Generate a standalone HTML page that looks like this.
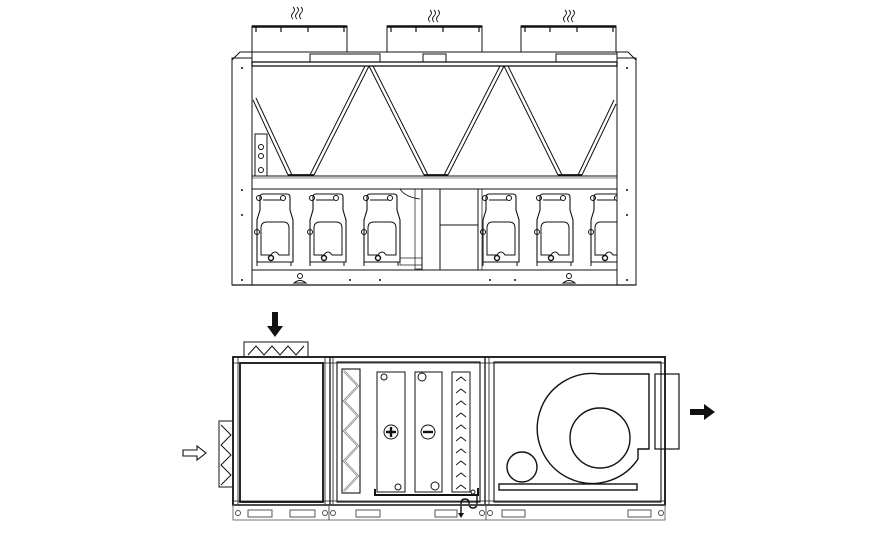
<!DOCTYPE html>
<html><head><meta charset="utf-8"><style>html,body{margin:0;padding:0;background:#fff}svg{display:block}</style></head>
<body>
<svg width="875" height="552" viewBox="0 0 875 552" xmlns="http://www.w3.org/2000/svg" fill="none" stroke="#111" stroke-width="1">
<defs>
<g id="comp">
  <path d="M5,18 v-13 q0,-3 3,-3 h24 q3,0 3,3 v13 l3,10 v42 h-36 v-42 z" stroke-width="1.1"/>
  <path d="M6,36 q0,-6 6,-6 h16 q6,0 6,6 v27 h-10 q-4,-6 -8,0 h-10 z" stroke-width="1"/>
  <circle cx="16" cy="66" r="2.5" stroke-width="1.4"/>
  <circle cx="4" cy="6" r="2.5"/><circle cx="28" cy="6" r="2.5"/>
  <circle cx="2" cy="40" r="2.5"/>
  <line x1="8" y1="8" x2="26" y2="8"/>
  <path d="M2,70 v4 M36,70 v4"/>
</g>
<g id="fan">
  <rect x="0" y="0" width="95" height="26"/>
  <line x1="0" y1="0.5" x2="95" y2="0.5" stroke-width="2.5"/>
  <path d="M4,1 v5 M29,1 v5 M56,1 v5 M92,1 v5" stroke-width="1.2"/>
</g>
<g id="wave"><path d="M0,0 q3,3 0,6 t0,6 M4,0 q3,3 0,6 t0,6 M8,0 q3,3 0,6 t0,6" stroke-width="0.9"/></g>
<clipPath id="cc"><rect x="585" y="180" width="32" height="100"/></clipPath>
</defs>

<use href="#fan" x="252" y="26"/>
<use href="#fan" x="387" y="26"/>
<use href="#fan" x="521" y="26"/>
<use href="#wave" x="293" y="7"/>
<use href="#wave" x="430" y="10"/>
<use href="#wave" x="565" y="10"/>

<path d="M232,60 l8,-8 h388 l8,8"/>
<line x1="240" y1="52" x2="628" y2="52"/>
<rect x="252" y="52" width="365" height="10"/>
<rect x="310" y="54" width="70" height="8"/>
<rect x="423" y="54" width="23" height="8"/>
<rect x="556" y="54" width="61" height="8"/>
<rect x="252" y="62" width="365" height="4" stroke-width="1.3"/>

<rect x="232" y="58" width="20" height="227"/>
<rect x="617" y="58" width="19" height="227"/>
<rect x="252" y="66" width="365" height="204" stroke-width="0.8"/>

<g stroke-width="1">
<path d="M253,100 L288,175 M256,98 L292,175"/>
<path d="M310,175 L365,66 M314,175 L369,66"/>
<path d="M369,66 L424,175 M373,66 L428,175"/>
<path d="M444,175 L500,66 M448,175 L504,66"/>
<path d="M504,66 L558,175 M508,66 L562,175"/>
<path d="M578,175 L614,100 M582,175 L616,104"/>
<path d="M288,175 h26 M424,175 h24 M558,175 h24" stroke-width="1.8"/>
</g>
<rect x="255" y="134" width="12" height="42"/>
<circle cx="261" cy="147" r="2.5"/><circle cx="261" cy="156" r="2.5"/><circle cx="261" cy="170" r="2.5"/>

<rect x="252" y="176" width="365" height="13"/>
<line x1="252" y1="178" x2="617" y2="178" stroke-width="0.6"/>

<rect x="422" y="189" width="56" height="81"/>
<line x1="440" y1="189" x2="440" y2="270"/>
<line x1="440" y1="225" x2="478" y2="225"/>
<path d="M400,189 q5,8 20,10" stroke-width="0.8"/>
<rect x="415" y="189" width="7" height="80" stroke-width="0.7"/>
<rect x="400" y="258" width="22" height="7" stroke-width="0.7"/>
<rect x="478" y="189" width="4" height="81" stroke-width="0.7"/>

<use href="#comp" x="255" y="192"/>
<use href="#comp" x="308" y="192"/>
<use href="#comp" x="362" y="192"/>
<use href="#comp" x="481" y="192"/>
<use href="#comp" x="535" y="192"/>
<g clip-path="url(#cc)"><use href="#comp" x="589" y="192"/></g>

<rect x="252" y="270" width="365" height="15"/>
<line x1="232" y1="285" x2="636" y2="285" stroke-width="1.3"/>
<circle cx="300" cy="276" r="2.5"/><path d="M294,283 q6,-5 12,0 z"/>
<circle cx="569" cy="276" r="2.5"/><path d="M563,283 q6,-5 12,0 z"/>
<g fill="#111" stroke="none">
<circle cx="242" cy="190" r="1"/><circle cx="242" cy="215" r="1"/><circle cx="242" cy="280" r="1"/><circle cx="242" cy="68" r="1"/>
<circle cx="627" cy="190" r="1"/><circle cx="627" cy="215" r="1"/><circle cx="627" cy="280" r="1"/><circle cx="627" cy="68" r="1"/>
<circle cx="350" cy="280" r="1"/><circle cx="380" cy="280" r="1"/><circle cx="490" cy="280" r="1"/><circle cx="515" cy="280" r="1"/>
</g>

<path d="M272,312 h6 v14 h5 l-8,11 l-8,-11 h5 z" fill="#111" stroke="none"/>
<path d="M183,450 h14 v-4 l9,7 l-9,7 v-4 h-14 z" stroke-width="1.1"/>
<path d="M690,409 h14 v-5 l11,8 l-11,8 v-5 h-14 z" fill="#111" stroke="none"/>

<rect x="244" y="342" width="64" height="15"/>
<path d="M248,355 l8,-9 l8,9 l8,-9 l8,9 l8,-9 l8,9 l8,-9" stroke-width="1"/>
<rect x="219" y="421" width="14" height="66"/>
<path d="M221,425 l10,10 l-10,10 l10,10 l-10,10 l10,10 l-10,10" stroke-width="1"/>

<rect x="233" y="357" width="432" height="148" stroke-width="1.8"/>
<line x1="233" y1="363" x2="665" y2="363" stroke-width="0.8"/>
<line x1="233" y1="501" x2="665" y2="501" stroke-width="0.8"/>
<rect x="240" y="363" width="83" height="139" stroke-width="1.8"/>
<line x1="238" y1="357" x2="238" y2="505" stroke-width="0.8"/>
<line x1="325" y1="357" x2="325" y2="505" stroke-width="0.8"/>
<line x1="330" y1="357" x2="330" y2="505" stroke-width="1.3"/>
<line x1="333" y1="357" x2="333" y2="505" stroke-width="0.8"/>
<rect x="337" y="362" width="143" height="140" stroke-width="1.1"/>
<line x1="485" y1="357" x2="485" y2="505" stroke-width="1.3"/>
<line x1="489" y1="357" x2="489" y2="505" stroke-width="0.8"/>
<rect x="342" y="369" width="18" height="124" stroke-width="1.1"/>
<path d="M344,371 l14,15 l-14,15 l14,15 l-14,15 l14,15 l-14,15 l14,15 l-14,15" stroke="#888" stroke-width="2.2"/>
<path d="M344,371 l14,15 l-14,15 l14,15 l-14,15 l14,15 l-14,15 l14,15 l-14,15" stroke="#fff" stroke-width="0.6"/>
<rect x="377" y="372" width="28" height="120"/>
<circle cx="384" cy="377" r="3"/><circle cx="398" cy="487" r="3"/>
<circle cx="391" cy="432" r="7"/><path d="M386,432 h10 M391,427 v10" stroke-width="2.4"/>
<rect x="415" y="372" width="27" height="120"/>
<circle cx="422" cy="377" r="4"/><circle cx="435" cy="486" r="4"/>
<circle cx="428" cy="432" r="7"/><path d="M423,432 h10" stroke-width="2.4"/>
<rect x="452" y="372" width="18" height="120"/>
<path d="M456,381 l5,-4 l5,4 M456,393 l5,-4 l5,4 M456,405 l5,-4 l5,4 M456,417 l5,-4 l5,4 M456,429 l5,-4 l5,4 M456,441 l5,-4 l5,4 M456,453 l5,-4 l5,4 M456,465 l5,-4 l5,4 M456,477 l5,-4 l5,4 M456,489 l5,-4 l5,4" stroke-width="0.9"/>
<path d="M375,489 v6 h103 v-7" stroke-width="2"/>
<circle cx="473" cy="492" r="2"/>
<path d="M477,495 v8 q0,5 -4,5 q-4,0 -4,-5 q0,-4 -4,-4 q-4,0 -4,5 v11" stroke-width="1.4"/>
<path d="M458,513 l3,5 l3,-5 z" fill="#111" stroke="none"/>
<rect x="494" y="362" width="167" height="140" stroke-width="1.1"/>
<path d="M649,374 H600 A55,55 0 1 0 638,459 L638,449 H649 Z" stroke-width="1.4"/>
<circle cx="600" cy="438" r="30" stroke-width="1.4"/>
<rect x="655" y="374" width="24" height="75" stroke-width="1.2"/>
<circle cx="522" cy="467" r="15" stroke-width="1.4"/>
<rect x="499" y="484" width="138" height="6" stroke-width="1.4"/>

<rect x="233" y="505" width="432" height="15" stroke="#666" stroke-width="0.9"/>
<g stroke="#444" stroke-width="0.9">
<rect x="248" y="510" width="24" height="7"/><rect x="290" y="510" width="25" height="7"/>
<rect x="356" y="510" width="24" height="7"/><rect x="435" y="510" width="22" height="7"/>
<rect x="502" y="510" width="23" height="7"/><rect x="628" y="510" width="23" height="7"/>
<circle cx="238" cy="513" r="2.5"/><circle cx="325" cy="513" r="2.5"/><circle cx="333" cy="513" r="2.5"/>
<circle cx="482" cy="513" r="2.5"/><circle cx="490" cy="513" r="2.5"/><circle cx="661" cy="513" r="2.5"/>
<line x1="329" y1="505" x2="329" y2="520"/><line x1="486" y1="505" x2="486" y2="520"/>
</g>
</svg>
</body></html>
